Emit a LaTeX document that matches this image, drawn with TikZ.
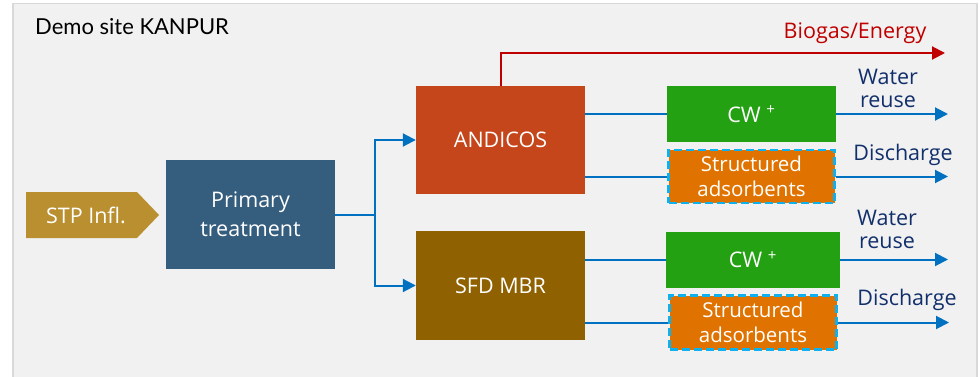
\documentclass[tikz,border=0pt]{standalone}
\usepackage{fontspec}
\setmainfont{Open Sans}
\newfontfamily\titlefont{Lato}
\usetikzlibrary{arrows.meta,calc}
\definecolor{panel}{HTML}{F1F1F1}
\definecolor{shadowc}{HTML}{D9D9D9}
\definecolor{goldc}{HTML}{B98F2F}
\definecolor{primc}{HTML}{355D7E}
\definecolor{andc}{HTML}{C4461A}
\definecolor{sfdc}{HTML}{8F6100}
\definecolor{greenc}{HTML}{24A112}
\definecolor{orangec}{HTML}{E07300}
\definecolor{cyanc}{HTML}{0FB0EE}
\definecolor{bluec}{HTML}{0070C0}
\definecolor{redc}{HTML}{C00000}
\definecolor{navyc}{HTML}{112F6B}
\tikzset{
  procbox/.style={rectangle, inner sep=0pt, text=white, align=center, font=\fontsize{21.5}{29}\selectfont},
  flow/.style={draw=bluec, line width=2pt},
  flowarrow/.style={flow, -{Triangle[length=13pt,width=13pt]}},
  gasarrow/.style={draw=redc, line width=2pt, -{Triangle[length=13pt,width=13pt]}},
  outlabel/.style={text=navyc, align=center, inner sep=0pt, font=\fontsize{21.5}{23}\selectfont},
  adsbox/.style={procbox, fill=orangec, draw=cyanc, line width=2.6pt, dash pattern=on 8pt off 4pt, font=\fontsize{20.5}{24.5}\selectfont},
}
\begin{document}
\begin{tikzpicture}[x=1pt,y=-1pt]
\useasboundingbox (0,0) rectangle (980,377);
\fill[white] (0,0) rectangle (980,377);
% panel with soft shadow
\fill[shadowc] (12,3) rectangle (978,377);
\fill[panel] (14,4) rectangle (976,377);
\node[anchor=west, inner sep=0pt, font=\titlefont\fontsize{22}{26}\selectfont] (title) at (35,27) {Demo site KANPUR};

% STP influent pentagon
\fill[goldc] (26,192) -- (137,192) -- (159,215) -- (137,238) -- (26,238) -- cycle;
\node[procbox] (stp) at (86,215) {STP Infl.};

% main boxes
\node[procbox, fill=primc, minimum width=169pt, minimum height=109pt] (prim) at (250.5,214.5) {Primary\\treatment};
\node[procbox, fill=andc, minimum width=169pt, minimum height=108pt] (andi) at (500.5,140) {ANDICOS};
\node[procbox, fill=sfdc, minimum width=169pt, minimum height=109pt] (sfd) at (500.5,285.5) {SFD MBR};

\node[procbox, fill=greenc, minimum width=169pt, minimum height=56pt] (cw1) at (751.5,114) {CW\ \textsuperscript{+}};
\node[adsbox, minimum width=166pt, minimum height=53pt] (ad1) at (751.5,176.5) {Structured\\adsorbents};
\node[procbox, fill=greenc, minimum width=174pt, minimum height=56pt] (cw2) at (753,259.5) {CW\ \textsuperscript{+}};
\node[adsbox, minimum width=167pt, minimum height=54pt] (ad2) at (753,322.5) {Structured\\adsorbents};

% outlets
\coordinate (gasend) at (945,53);
\coordinate (o1) at (948,114);
\coordinate (o2) at (948,176.5);
\coordinate (o3) at (948,259.5);
\coordinate (o4) at (949,322.5);
\coordinate (split) at (375,214.5);

% connectors
\draw[flow] (prim.east) -- (split);
\draw[flowarrow] (split) |- (andi.west);
\draw[flowarrow] (split) |- (sfd.west);
\draw[gasarrow] (andi.north) |- (gasend);
\draw[flow] (andi.east |- cw1.west) -- (cw1.west);
\draw[flow] (andi.east |- ad1.west) -- (ad1.west);
\draw[flow] (sfd.east |- cw2.west) -- (cw2.west);
\draw[flow] (sfd.east |- ad2.west) -- (ad2.west);
\draw[flowarrow] (cw1.east) -- (o1);
\draw[flowarrow] (ad1.east) -- (o2);
\draw[flowarrow] (cw2.east) -- (o3);
\draw[flowarrow] (ad2.east) -- (o4);

% labels
\node[text=redc, inner sep=0pt, font=\fontsize{21.5}{25}\selectfont] (gaslbl) at (855,33) {Biogas/Energy};
\node[outlabel] (wr1) at (888,88) {Water\\reuse};
\node[outlabel] (dc1) at (903,155) {Discharge};
\node[outlabel] (wr2) at (887,229) {Water\\reuse};
\node[outlabel] (dc2) at (907,300) {Discharge};
\end{tikzpicture}
\end{document}
